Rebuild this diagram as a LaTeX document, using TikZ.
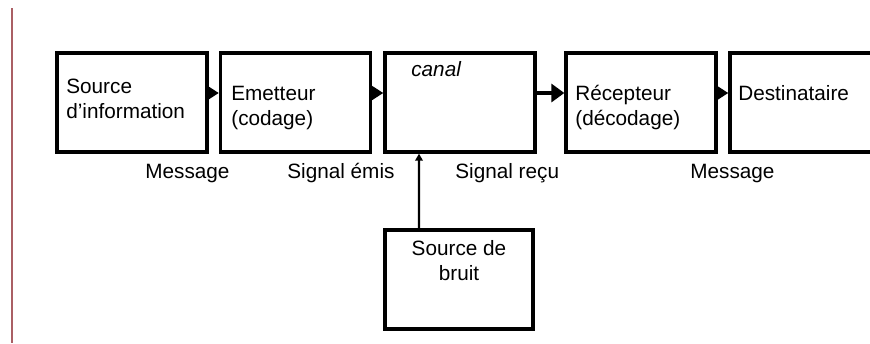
\documentclass[tikz,border=0pt]{standalone}
\usepackage{fontspec}
\setmainfont{Liberation Sans}
\usetikzlibrary{arrows.meta}
\definecolor{marge}{RGB}{170,95,100}

\begin{document}
\begin{tikzpicture}[x=0.02cm, y=-0.02cm,
  box/.style={draw, line width=1.9pt, minimum width=3cm, minimum height=1.98cm, inner sep=0},
  txt/.style={anchor=base west, align=left, inner sep=0, font=\fontsize{11.8}{14}\selectfont},
  flow/.style={line width=1.8pt, -{Triangle[length=0.25cm, width=0.3cm]}}]
\clip (0,0) rectangle (870,343);

% margin line
\draw[marge, line width=1.5pt] (12,8) -- (12,343);

% boxes
\node[box] (src) at (132,102.5) {};
\node[box] (emet) at (295.5,102.5) {};
\node[box] (canal) at (460,102.5) {};
\node[box] (recep) at (641,102.5) {};
\node[box] (dest) at (805,102.5) {};
\node[box, minimum width=2.96cm] (bruit) at (459,279.5) {};

% texts in boxes (base = last line)
\node[txt] (tsrc) at (66,118) {Source\\d'information};
\node[txt] (temet) at (231,125) {Emetteur\\(codage)};
\node[txt, font=\fontsize{11.8}{14}\selectfont\itshape] (tcanal) at (411,76) {canal};
\node[txt] (trecep) at (575,125) {Récepteur\\(décodage)};
\node[txt] (tdest) at (738,100) {Destinataire};
\node[txt, anchor=base, align=center] (tbruit) at (459,280) {Source de\\bruit};

% labels under the chain
\node[txt] (m1) at (145,178) {Message};
\node[txt] (m2) at (287,178) {Signal émis};
\node[txt] (m3) at (455,178) {Signal reçu};
\node[txt] (m4) at (690,178) {Message};

% arrows
\draw[flow] ([yshift=0.19cm]src.east) -- ([yshift=0.19cm]emet.west);
\draw[flow] ([yshift=0.19cm]emet.east) -- ([yshift=0.19cm]canal.west);
\draw[line width=2.8pt, -{Triangle[length=0.26cm, width=0.36cm]}] ([yshift=0.19cm]canal.east) -- ([yshift=0.19cm]recep.west);
\draw[flow] ([yshift=0.19cm]recep.east) -- ([yshift=0.19cm]dest.west);
\draw[line width=1.3pt, -{Triangle[length=0.14cm, width=0.15cm]}] ([xshift=-0.8cm]bruit.north) -- ([xshift=-0.82cm]canal.south);
\end{tikzpicture}
\end{document}
